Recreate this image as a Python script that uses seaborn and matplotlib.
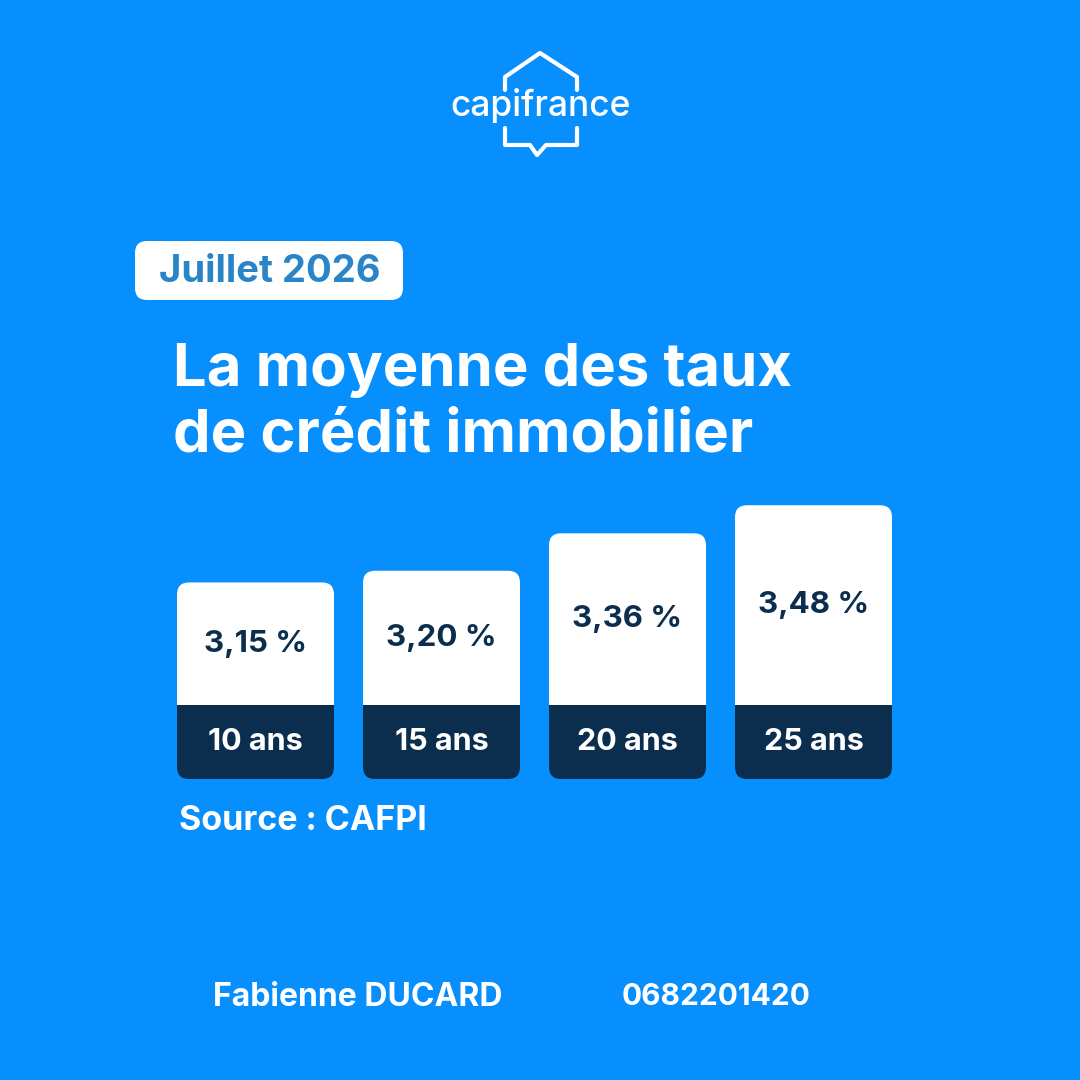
import matplotlib
matplotlib.use("Agg")
import matplotlib.pyplot as plt
import seaborn as sns
from matplotlib.patches import FancyBboxPatch, Rectangle

# données
durees = ['10 ans', '15 ans', '20 ans', '25 ans']
taux = [3.15, 3.20, 3.36, 3.48]
taux_labels = ['3,15 %', '3,20 %', '3,36 %', '3,48 %']
mois = 'Juillet 2026'
titre = ['La moyenne des taux', 'de crédit immobilier']
source = 'Source : CAFPI'
conseiller = 'Fabienne DUCARD'
telephone = '0682201420'

BLEU = '#078ffd'
NAVY = '#0b2e4f'

sns.set_theme(style='white')
plt.rcParams['font.family'] = ['Inter', 'DejaVu Sans']

fig = plt.figure(figsize=(10.8, 10.8), dpi=100, facecolor=BLEU)

# fond + décor en coordonnées pixel
bg = fig.add_axes([0, 0, 1, 1])
bg.set_xlim(0, 1080)
bg.set_ylim(1080, 0)
bg.axis('off')

# logo capifrance (maison + bulle)
lw = 3.0
bg.plot([505, 505, 540, 577, 577], [90, 77, 53, 77, 90], color='white', lw=lw,
        solid_joinstyle='round', solid_capstyle='round')
bg.plot([505, 505, 530, 537, 546, 577, 577], [128, 145, 145, 155, 145, 145, 128],
        color='white', lw=lw, solid_joinstyle='round', solid_capstyle='round')
bg.text(541, 116, 'capifrance', color='white', fontsize=25.5, fontweight='medium',
        ha='center', va='baseline')

# badge du mois
bg.add_patch(FancyBboxPatch((135, 241), 268, 59, boxstyle='round,pad=0,rounding_size=12',
                            fc='white', ec='none'))
bg.text(270, 272, mois, color='#2a84c8', fontsize=27.5, fontweight='bold',
        ha='center', va='center')

# titre
bg.text(173, 386, titre[0], color='white', fontsize=43, fontweight='bold',
        ha='left', va='baseline')
bg.text(173, 452, titre[1], color='white', fontsize=43, fontweight='bold',
        ha='left', va='baseline')

bg.text(179, 821, source, color='white', fontsize=24.5, fontweight='bold',
        ha='left', va='center')
bg.text(213, 997, conseiller, color='white', fontsize=23, fontweight='bold',
        ha='left', va='center')
bg.text(622, 997, telephone, color='white', fontsize=21.5, fontweight='bold',
        ha='left', va='center')

# barres
px_x = 186.0      # pixels par catégorie
px_y = 234.0      # pixels par point de taux
base = 2.31
ax = fig.add_axes([162.5 / 1080, (1080 - 779) / 1080, 744 / 1080, 300 / 1080])
ax.set_facecolor('none')
sns.barplot(x=durees, y=taux, width=0.844, color='white', ax=ax)
ax.set_xlim(-0.5, 3.5)
ax.set_ylim(base, base + 300 / px_y)
ax.axis('off')

rx = 12 / px_x
asp = px_x / px_y
band = 74 / px_y
for p, lab, dur in zip(list(ax.patches), taux_labels, durees):
    x0, w = p.get_x(), p.get_width()
    top = p.get_y() + p.get_height()
    p.set_visible(False)
    style = f'round,pad=0,rounding_size={rx}'
    ax.add_patch(FancyBboxPatch((x0, base + band / 2), w, top - base - band / 2,
                                boxstyle=style, mutation_aspect=asp,
                                fc='white', ec='none', clip_on=False))
    ax.add_patch(FancyBboxPatch((x0, base), w, band, boxstyle=style,
                                mutation_aspect=asp, fc=NAVY, ec='none', clip_on=False))
    ax.add_patch(Rectangle((x0, base + band / 2), w, band / 2, fc=NAVY, ec='none',
                           clip_on=False))
    cx = x0 + w / 2
    ax.text(cx, (base + band + top) / 2, lab, color=NAVY, fontsize=22.5,
            fontweight='bold', ha='center', va='center')
    ax.text(cx, base + band / 2, dur, color='white', fontsize=22,
            fontweight='bold', ha='center', va='center')

fig.savefig('out.png', dpi=100, facecolor=BLEU)
